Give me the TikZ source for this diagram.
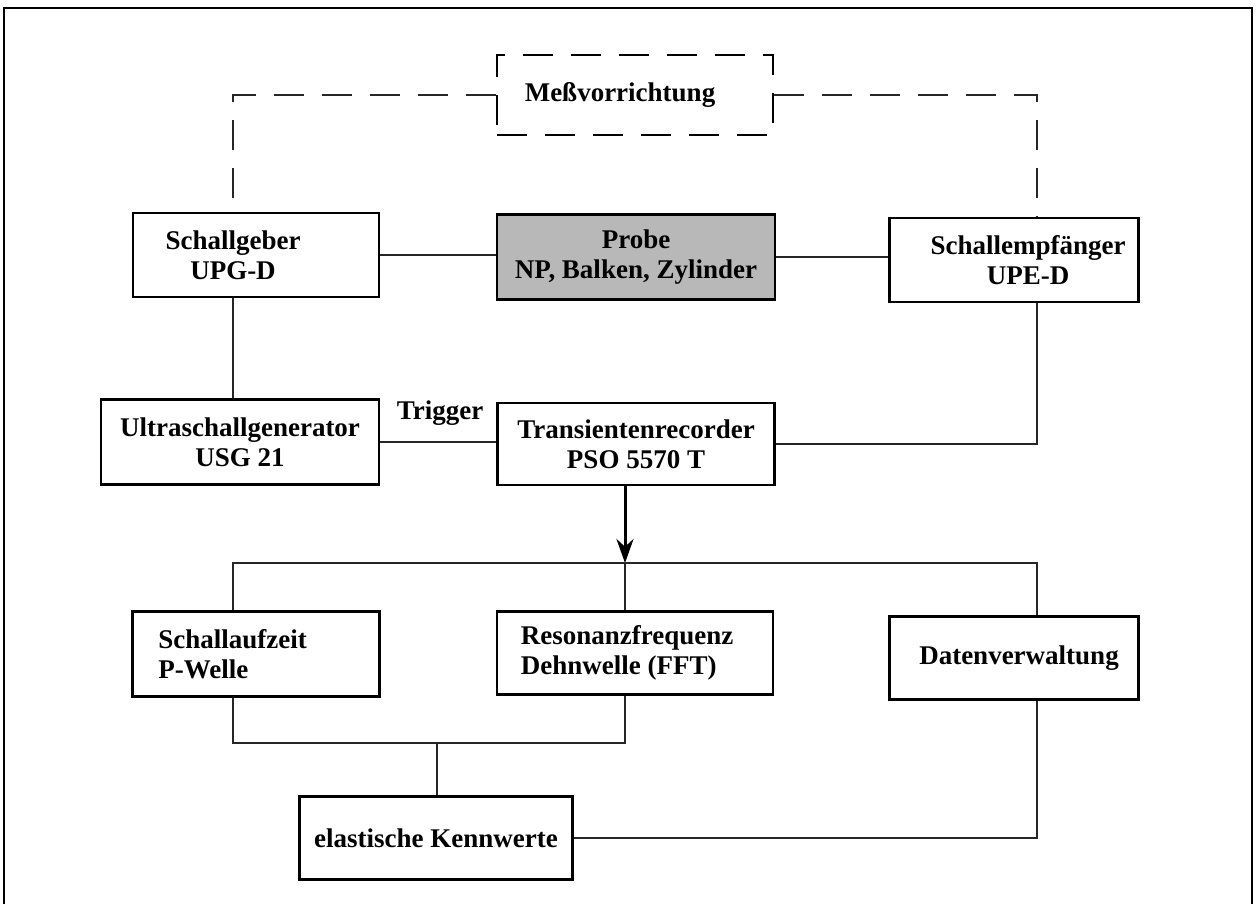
\documentclass[tikz,border=0pt]{standalone}
\usepackage{fontspec}
\setmainfont{Liberation Serif}
\usetikzlibrary{arrows.meta}
\begin{document}
\begin{tikzpicture}[x=1pt,y=-1pt,
  every node/.style={font=\fontsize{27}{30}\selectfont\bfseries},
  box/.style={draw=black, line width=2.6pt, align=center, inner sep=0pt},
  intext/.style={align=center, inner sep=0pt},
  lefttext/.style={align=left, inner sep=0pt, anchor=west},
  conn/.style={draw=black!85, line width=1.3pt},
  dashconn/.style={draw=black!85, line width=1.5pt, dash pattern=on 30pt off 18pt},
  bigarrow/.style={draw=black, line width=3pt, -{Stealth[length=24pt,width=17pt]}}]
\useasboundingbox (0,0) rectangle (1257,904);
% frame
\draw[line width=2.5pt] (4,904) -- (4,8) -- (1252,8) -- (1252,904);
% helper coordinates
\coordinate (xL) at (233,0);
\coordinate (xM) at (625,0);
\coordinate (xR) at (1037,0);
% nodes
\node[box, dash pattern=on 30pt off 18pt, line width=2.2pt, minimum width=276pt, minimum height=80pt,
  label={[intext, xshift=-15pt]center:Meßvorrichtung}] (mess) at (635,95) {};
\node[box, minimum width=246pt, minimum height=84pt,
  label={[intext, xshift=-23pt]center:Schallgeber\\UPG-D}] (geber) at (256,255) {};
\node[box, fill=black!28, minimum width=278pt, minimum height=85pt] (probe) at (636,257) {Probe\\NP, Balken, Zylinder};
\node[box, minimum width=249pt, minimum height=84pt,
  label={[intext, xshift=14pt]center:Schallempfänger\\UPE-D}] (empf) at (1014,260) {};
\node[box, minimum width=278pt, minimum height=85pt] (usg) at (240,442) {Ultraschallgenerator\\USG 21};
\node[box, minimum width=277pt, minimum height=82pt] (trans) at (636,444) {Transientenrecorder\\PSO 5570 T};
\node[box, minimum width=247pt, minimum height=85pt,
  label={[lefttext, xshift=27pt]west:Schallaufzeit\\P-Welle}] (schall) at (256,654) {};
\node[box, minimum width=276pt, minimum height=83pt,
  label={[lefttext, xshift=25pt]west:Resonanzfrequenz\\Dehnwelle (FFT)}] (reso) at (635,653) {};
\node[box, minimum width=249pt, minimum height=83pt,
  label={[intext, xshift=5pt]center:Datenverwaltung}] (daten) at (1014,658) {};
\node[box, minimum width=273pt, minimum height=83pt] (elast) at (436,838) {elastische Kennwerte};
\node (trig) at (440,413) {Trigger};
% dashed connections to Meßvorrichtung
\draw[dashconn] (mess.west) -| (geber.north -| xL);
\draw[dashconn] (mess.east) -| (empf.north -| xR);
% connections
\draw[conn] (geber.east) -- (geber.east -| probe.west);
\draw[conn] (probe.east) -- (probe.east -| empf.west);
\draw[conn] (geber.south -| xL) -- (usg.north -| xL);
\draw[conn] (usg.east) -- (usg.east -| trans.west);
\draw[conn] (empf.south -| xR) |- (trans.east);
% arrow and distribution
\coordinate (bus) at (625,563);
\draw[bigarrow] (trans.south -| xM) -- (bus);
\draw[conn] (schall.north -| xL) |- (bus) -| (daten.north -| xR);
\draw[conn] (bus) -- (reso.north -| xM);
% bottom joins
\coordinate (j) at (437,743);
\draw[conn] (schall.south -| xL) |- (j) -| (reso.south -| xM);
\draw[conn] (j) -- (j |- elast.north);
\draw[conn] (daten.south -| xR) |- (elast.east);
\end{tikzpicture}
\end{document}
